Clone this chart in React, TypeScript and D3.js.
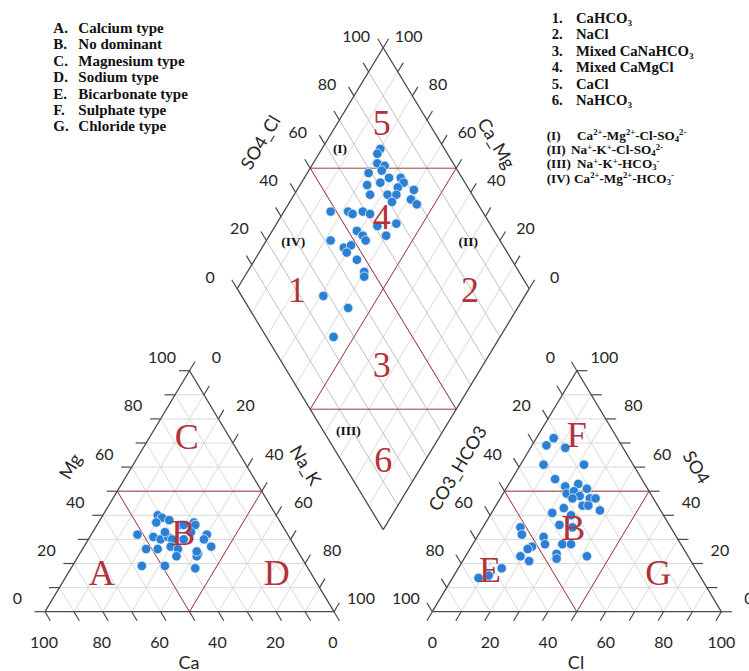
import React from 'react';
import * as d3 from 'd3';

// ---------------- data ----------------
const cationCa = [41, 40, 38, 43, 35, 30, 30, 52, 47, 45, 42, 41, 37, 33, 28, 30, 29, 52, 48, 43, 41, 35, 36, 43, 57, 49, 39, 42, 35, 34];
const cationMg = [40, 39, 38, 37, 36, 37, 36, 32, 31, 30, 31, 30, 30, 33, 32, 30, 27, 26, 26, 27, 26, 24, 23, 23, 19, 19, 18, 33, 25, 36];

const anionCl = [6, 5, 12, 8, 22, 15, 20, 24, 28, 22, 24, 27, 25, 31, 33, 30, 32, 37, 24, 21, 28, 26, 31, 13, 15, 23, 25, 31, 34, 21, 20, 31, 32, 19, 23, 42, 15, 12, 9];
const anionSO4 = [72, 69, 68, 61, 61, 55, 52, 53, 51, 49, 50, 48, 47, 47, 47, 44, 44, 42, 43, 41, 40, 36, 35, 35, 32, 31, 28, 28, 28, 27, 26, 24, 22, 23, 21, 23, 18, 15, 14];

const diamondSO4Cl = [78, 76, 74, 76, 74, 69, 75, 79, 66, 71, 79, 76, 81, 65, 71, 74, 71, 78, 79, 48, 54, 55, 59, 61, 68, 61, 53, 54, 54, 62, 42, 45, 48, 45, 47, 47, 46, 28, 34, 23];
const diamondCaMg = [80, 80, 78, 75, 75, 79, 71, 67, 77, 73, 65, 66, 60, 74, 68, 65, 65, 59, 56, 84, 78, 76, 73, 70, 59, 65, 71, 68, 66, 60, 78, 72, 70, 70, 65, 60, 59, 69, 58, 57];

const tickValues = [0, 20, 40, 60, 80, 100];
const gridValues = [10, 20, 30, 40, 50, 60, 70, 80, 90];
const tickMarkValues = [0, 10, 20, 30, 40, 50, 60, 70, 80, 90, 100];

const typeKeys = ['A.', 'B.', 'C.', 'D.', 'E.', 'F.', 'G.'];
const typeNames = ['Calcium type', 'No dominant', 'Magnesium type', 'Sodium type', 'Bicarbonate type', 'Sulphate type', 'Chloride type'];
const faciesKeys = ['1.', '2.', '3.', '4.', '5.', '6.'];
const faciesNames = ['CaHCO{_3}', 'NaCl', 'Mixed CaNaHCO{_3}', 'Mixed CaMgCl', 'CaCl', 'NaHCO{_3}'];
const romanKeys = ['(I)', '(II)', '(III)', '(IV)'];
const romanNames = ['Ca{^2+}-Mg{^2+}-Cl-SO{_4}{^2-}', 'Na{^+}-K{^+}-Cl-SO{_4}{^2-}', 'Na{^+}-K{^+}-HCO{_3}{^-}', 'Ca{^2+}-Mg{^2+}-HCO{_3}{^-}'];

// ---------------- geometry ----------------
const W = 749, H = 671;
const S = 289;        // triangle side (px)
const TH = 241;       // triangle height (px)
const baseY = 611.7;
const leftX0 = 45;
const rightX0 = 432.3;
const DB = { x: 383.2, y: 529.7 }; // diamond bottom vertex
const DHW = 146;      // diamond half width

const SANS = "Lato, 'Open Sans', sans-serif";
const SERIF = "'Liberation Serif', 'Times New Roman', serif";
const RED_LINE = '#a2383e';
const RED_TXT = '#b3323c';
const DOT = '#2b80d4';
const EDGE = '#4a4a4a';
const GRID = '#d6d6d6';

type P = [number, number];

function makeTri(x0: number) {
  const sx = d3.scaleLinear().domain([0, 100]).range([x0, x0 + S]);
  const sy = d3.scaleLinear().domain([0, 100]).range([baseY, baseY - TH]);
  return (a: number, v: number): P => [sx(a + v / 2), sy(v)];
}

const dX = d3.scaleLinear().domain([-100, 100]).range([DB.x - DHW, DB.x + DHW]);
const dY = d3.scaleLinear().domain([0, 200]).range([DB.y, DB.y - 2 * TH]);
const q = (u: number, v: number): P => [dX(u - v), dY(u + v)];

function unit(a: P, b: P): P {
  const dx = b[0] - a[0], dy = b[1] - a[1];
  const l = Math.hypot(dx, dy);
  return [dx / l, dy / l];
}

const line = d3.line<P>();

function Rich({ s, x, y, size, ratio = 0.62, sub = 0.22, sup = 0.38, ...rest }: any) {
  const parts: { t: string; k: string }[] = [];
  const re = /\{([_^])([^}]*)\}/g;
  let last = 0, m;
  while ((m = re.exec(s))) {
    if (m.index > last) parts.push({ t: s.slice(last, m.index), k: 'n' });
    parts.push({ t: m[2], k: m[1] });
    last = re.lastIndex;
  }
  if (last < s.length) parts.push({ t: s.slice(last), k: 'n' });
  let cur = 0;
  return (
    <text x={x} y={y} fontSize={size} {...rest}>
      {parts.map((p, i) => {
        const target = p.k === '_' ? size * sub : p.k === '^' ? -size * sup : 0;
        const dy = target - cur;
        cur = target;
        return (
          <tspan key={i} dy={dy} fontSize={p.k === 'n' ? size : size * ratio}>{p.t}</tspan>
        );
      })}
    </text>
  );
}

function Triangle({ x0, mirror }: { x0: number; mirror: boolean }) {
  const p = makeTri(x0);
  const grid: P[][] = [];
  gridValues.forEach((k) => {
    grid.push([p(0, k), p(100 - k, k)]);
    grid.push([p(k, 0), p(k, 100 - k)]);
    grid.push([p(100 - k, 0), p(0, 100 - k)]);
  });
  const tl = 10.5;
  const ticks: P[][] = [];
  const labels: { x: number; y: number; t: string }[] = [];
  if (!mirror) {
    const dMg = unit(p(100, 0), p(0, 0));
    const dNa = unit(p(0, 0), p(0, 100));
    const dCa = unit(p(0, 100), p(100, 0));
    tickMarkValues.forEach((k) => {
      const a = p(0, k); ticks.push([a, [a[0] + dMg[0] * tl, a[1] + dMg[1] * tl]]);
      const b = p(k, 100 - k); ticks.push([b, [b[0] + dNa[0] * tl, b[1] + dNa[1] * tl]]);
      const c = p(100 - k, 0); ticks.push([c, [c[0] + dCa[0] * tl, c[1] + dCa[1] * tl]]);
    });
    tickValues.forEach((k) => {
      const a = p(0, k); labels.push({ x: a[0] - 27.5, y: a[1] - 14, t: String(k) });
      const b = p(k, 100 - k); labels.push({ x: b[0] + 27, y: b[1] - 14, t: String(k) });
      const c = p(100 - k, 0); labels.push({ x: c[0] - 1, y: c[1] + 30, t: String(k) });
    });
  } else {
    const dSO4 = unit(p(0, 0), p(100, 0));
    const dHC = unit(p(100, 0), p(0, 100));
    const dCl = unit(p(0, 100), p(0, 0));
    tickMarkValues.forEach((k) => {
      const a = p(100 - k, k); ticks.push([a, [a[0] + dSO4[0] * tl, a[1] + dSO4[1] * tl]]);
      const b = p(0, 100 - k); ticks.push([b, [b[0] + dHC[0] * tl, b[1] + dHC[1] * tl]]);
      const c = p(k, 0); ticks.push([c, [c[0] + dCl[0] * tl, c[1] + dCl[1] * tl]]);
    });
    tickValues.forEach((k) => {
      const a = p(100 - k, k); labels.push({ x: a[0] + 27.5, y: a[1] - 14, t: String(k) });
      const b = p(0, 100 - k); labels.push({ x: b[0] - 26.5, y: b[1] - 14, t: String(k) });
      const c = p(k, 0); labels.push({ x: c[0], y: c[1] + 30, t: String(k) });
    });
  }
  const outline: P[] = [p(0, 0), p(100, 0), p(0, 100), p(0, 0)];
  const red: P[][] = [
    [p(0, 50), p(50, 50)],
    [p(0, 50), p(50, 0)],
    [p(50, 50), p(50, 0)],
  ];
  return (
    <g>
      {grid.map((g, i) => <path key={'g' + i} d={line(g)!} stroke={GRID} strokeWidth={0.9} fill="none" />)}
      {red.map((g, i) => <path key={'r' + i} d={line(g)!} stroke={RED_LINE} strokeWidth={1} fill="none" />)}
      <path d={line(outline)!} stroke={EDGE} strokeWidth={1.3} fill="none" />
      {ticks.map((g, i) => <path key={'t' + i} d={line(g)!} stroke={EDGE} strokeWidth={1.2} fill="none" />)}
      {labels.map((l, i) => (
        <text key={'l' + i} x={l.x} y={l.y} fontFamily={SANS} fontSize={16} fill="#262626" textAnchor="middle" dominantBaseline="central">{l.t}</text>
      ))}
    </g>
  );
}

function Diamond() {
  const grid1: P[][] = [];
  const grid2: P[][] = [];
  gridValues.forEach((k) => {
    grid1.push([q(k, 0), q(k, 100)]);
    grid2.push([q(0, k), q(100, k)]);
  });
  const tl = 10.5;
  const dU = unit(q(0, 0), q(0, 100));
  const dV = unit(q(0, 0), q(100, 0));
  const ticks: P[][] = [];
  tickMarkValues.forEach((k) => {
    const a = q(k, 100); ticks.push([a, [a[0] + dU[0] * tl, a[1] + dU[1] * tl]]);
    const b = q(100, k); ticks.push([b, [b[0] + dV[0] * tl, b[1] + dV[1] * tl]]);
  });
  const labels: { x: number; y: number; t: string }[] = [];
  tickValues.forEach((k) => {
    const a = q(k, 100); labels.push({ x: a[0] - 27, y: a[1] - 12.7, t: String(k) });
    const b = q(100, k); labels.push({ x: b[0] + 25.5, y: b[1] - 12.7, t: String(k) });
  });
  const outline: P[] = [q(0, 0), q(100, 0), q(100, 100), q(0, 100), q(0, 0)];
  const red: P[][] = [
    [q(50, 100), q(100, 50)],
    [q(50, 100), q(50, 50)],
    [q(100, 50), q(50, 50)],
    [q(50, 50), q(0, 50)],
    [q(50, 50), q(50, 0)],
    [q(0, 50), q(50, 0)],
  ];
  return (
    <g>
      {grid2.map((g, i) => <path key={'g2' + i} d={line(g)!} stroke={GRID} strokeWidth={0.9} fill="none" />)}
      {grid1.map((g, i) => <path key={'g1' + i} d={line(g)!} stroke="#b9b9b9" strokeWidth={0.9} fill="none" />)}
      {red.map((g, i) => <path key={'r' + i} d={line(g)!} stroke={RED_LINE} strokeWidth={1} fill="none" />)}
      <path d={line(outline)!} stroke={EDGE} strokeWidth={1.3} fill="none" />
      {ticks.map((g, i) => <path key={'t' + i} d={line(g)!} stroke={EDGE} strokeWidth={1.2} fill="none" />)}
      {labels.map((l, i) => (
        <text key={'l' + i} x={l.x} y={l.y} fontFamily={SANS} fontSize={16} fill="#262626" textAnchor="middle" dominantBaseline="central">{l.t}</text>
      ))}
    </g>
  );
}

function Title({ x, y, rot, t }: { x: number; y: number; rot: number; t: string }) {
  return (
    <text transform={`translate(${x},${y}) rotate(${rot})`} fontFamily={SANS} fontSize={18} fill="#262626" textAnchor="middle" dominantBaseline="central">{t}</text>
  );
}

function Region({ x, y, t }: { x: number; y: number; t: string }) {
  return (
    <text x={x} y={y + 12} fontFamily={SERIF} fontSize={36} fill={RED_TXT} textAnchor="middle">{t}</text>
  );
}

function Roman({ x, y, t }: { x: number; y: number; t: string }) {
  return (
    <text x={x} y={y + 4.5} fontFamily={SERIF} fontWeight="bold" fontSize={13.5} fill="#111" textAnchor="middle">{t}</text>
  );
}

export default function App() {
  const pL = makeTri(leftX0);
  const pR = makeTri(rightX0);
  const leftPts = cationCa.map((ca, i) => pL(100 - ca - cationMg[i], cationMg[i]));
  const rightPts = anionCl.map((cl, i) => pR(cl, anionSO4[i]));
  const diaPts = diamondSO4Cl.map((u, i) => q(u, diamondCaMg[i]));
  const dot = (pt: P, i: number, key: string) => (
    <circle key={key + i} cx={pt[0]} cy={pt[1]} r={4.7} fill={DOT} stroke="#dcecfb" strokeWidth={0.8} />
  );
  return (
    <svg width={W} height={H} viewBox={`0 0 ${W} ${H}`} style={{ position: 'absolute', left: 0, top: 0, background: '#fff' }} xmlns="http://www.w3.org/2000/svg">
      <rect x={0} y={0} width={W} height={H} fill="#fff" />
      <Triangle x0={leftX0} mirror={false} />
      <Triangle x0={rightX0} mirror={true} />
      <Diamond />

      {leftPts.map((p, i) => dot(p, i, 'lp'))}
      {rightPts.map((p, i) => dot(p, i, 'rp'))}
      {diaPts.map((p, i) => dot(p, i, 'dp'))}

      <Title x={70} y={466} rot={-59} t="Mg" />
      <Title x={306} y={465} rot={59} t="Na_K" />
      <Title x={189} y={662} rot={0} t="Ca" />
      <Title x={457} y={468} rot={-59} t="CO3_HCO3" />
      <Title x={697} y={467} rot={59} t="SO4" />
      <Title x={576} y={662} rot={0} t="Cl" />
      <Title x={260} y={142} rot={-59} t="SO4_Cl" />
      <Title x={497} y={143} rot={59} t="Ca_Mg" />

      <Region x={186.7} y={436.7} t="C" />
      <Region x={101.7} y={573.3} t="A" />
      <Region x={183.3} y={533.3} t="B" />
      <Region x={276.7} y={573.3} t="D" />
      <Region x={576.7} y={435} t="F" />
      <Region x={573.3} y={528.3} t="B" />
      <Region x={490} y={570} t="E" />
      <Region x={658.3} y={573.3} t="G" />
      <Region x={381.7} y={123.3} t="5" />
      <Region x={381.7} y={216.7} t="4" />
      <Region x={296.7} y={290} t="1" />
      <Region x={470} y={290} t="2" />
      <Region x={381.7} y={365} t="3" />
      <Region x={383.3} y={460} t="6" />

      <Roman x={340} y={148.3} t="(I)" />
      <Roman x={293.3} y={241.7} t="(IV)" />
      <Roman x={468.3} y={241.7} t="(II)" />
      <Roman x={348.3} y={430} t="(III)" />

      {typeKeys.map((k, i) => (
        <g key={'tk' + i} fontFamily={SERIF} fontWeight="bold" fontSize={15} fill="#111">
          <text x={53.3} y={33 + i * 16.4}>{k}</text>
          <text x={78.3} y={33 + i * 16.4}>{typeNames[i]}</text>
        </g>
      ))}
      {faciesKeys.map((k, i) => (
        <g key={'fk' + i} fontFamily={SERIF} fontWeight="bold" fill="#111">
          <text x={551.7} y={23 + i * 16.4} fontSize={14.7}>{k}</text>
          <Rich s={faciesNames[i]} x={576} y={23 + i * 16.4} size={14.7} />
        </g>
      ))}
      {romanKeys.map((k, i) => (
        <g key={'rk' + i} fontFamily={SERIF} fontWeight="bold" fill="#111">
          <text x={546.7} y={139.5 + i * 14.4} fontSize={13.2}>{k}</text>
          <Rich s={romanNames[i]} x={[577, 571, 577, 574][i]} y={139.5 + i * 14.4} size={13.2} ratio={0.66} sub={0.16} sup={0.32} />
        </g>
      ))}
    </svg>
  );
}
